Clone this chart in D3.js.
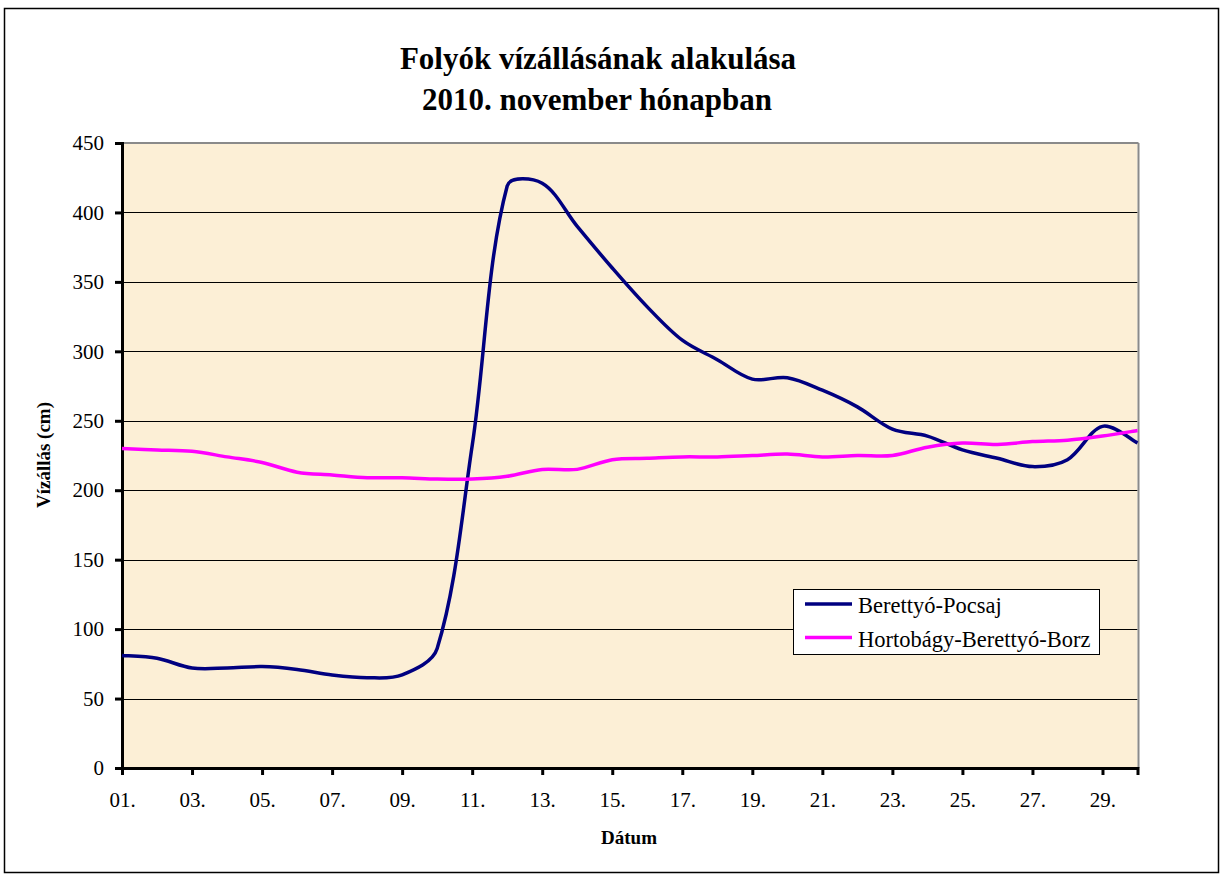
<!DOCTYPE html>
<html><head><meta charset="utf-8">
<script src="https://cdn.jsdelivr.net/npm/d3@7"></script>
<style>body{margin:0;background:#fff;} text{font-family:"Liberation Serif","Times New Roman",serif;}</style>
</head><body>
<svg id="c" width="1224" height="878"></svg>
<script>
const days = d3.range(1, 31);
const dayLabels = ["01.","03.","05.","07.","09.","11.","13.","15.","17.","19.","21.","23.","25.","27.","29."];
const berettyoPocsaj = [81,79,72,72,73,71,67,65,67,86,232,419,421,390,360,332,308,294,280,281,272,260,244,239,229,223,217,222,246,234];
const hortobagyBorz = [230,229,228,224,220,213,211,209,209,208,208,210,215,215,222,223,224,224,225,226,224,225,225,231,234,233,235,236,239,243];
const yTicks = [0,50,100,150,200,250,300,350,400,450];
const seriesNames = ["Berettyó-Pocsaj","Hortobágy-Berettyó-Borz"];
const seriesColors = ["#000080","#FF00FF"];

// Excel-like smoothing curve for d3.line: Bezier control points along (p[i+1]-p[i-1]),
// scaled by the relative lengths of the neighbouring segments.
function curveExcelSmooth(context) {
  let pts = [];
  return {
    areaStart(){}, areaEnd(){},
    lineStart(){ pts = []; },
    point(x, y){ pts.push([+x, +y]); },
    lineEnd(){
      const n = pts.length;
      if (!n) return;
      context.moveTo(pts[0][0], pts[0][1]);
      if (n === 1) return;
      const dist = (a,b)=>Math.hypot(b[0]-a[0], b[1]-a[1]);
      const ctrl = pts.map((p,i)=>{
        const prev = pts[Math.max(0,i-1)], next = pts[Math.min(n-1,i+1)];
        const tx = next[0]-prev[0], ty = next[1]-prev[1];
        const dp = dist(prev,p), dn = dist(p,next), s = dp+dn || 1;
        let fa, fb;
        if (i === 0 || i === n-1) { fa = fb = 1/6; }
        else { fa = dn/s/3; fb = dp/s/3; }
        return {after:[p[0]+tx*fa, p[1]+ty*fa], before:[p[0]-tx*fb, p[1]-ty*fb]};
      });
      for (let i=0;i<n-1;i++){
        const c1 = ctrl[i].after, c2 = ctrl[i+1].before, p = pts[i+1];
        context.bezierCurveTo(c1[0],c1[1],c2[0],c2[1],p[0],p[1]);
      }
    }
  };
}

const svg = d3.select("#c");
const L = 122, R = 1137.5, T = 143, B = 768;
const x = d3.scaleLinear().domain([1, 30]).range([L, R]);
const y = d3.scaleLinear().domain([0, 450]).range([B, T]);

// outer border
svg.append("rect").attr("x",4.5).attr("y",8.5).attr("width",1214).attr("height",864)
  .attr("fill","#fff").attr("stroke","#000").attr("stroke-width",1.5);

// plot background
svg.append("rect").attr("x",L).attr("y",T).attr("width",R-L).attr("height",B-T).attr("fill","#FCEFD6");

// gridlines
svg.append("g").selectAll("line").data(yTicks.filter(v=>v>0 && v<450)).join("line")
  .attr("x1",L).attr("x2",R).attr("y1",d=>Math.round(y(d))+0.5).attr("y2",d=>Math.round(y(d))+0.5)
  .attr("stroke","#000").attr("stroke-width",1);
// top & right border of plot
svg.append("line").attr("x1",L).attr("x2",R+1).attr("y1",T).attr("y2",T).attr("stroke","#8a8a8a").attr("stroke-width",2);
svg.append("line").attr("x1",R+1).attr("x2",R+1).attr("y1",T).attr("y2",B).attr("stroke","#8a8a8a").attr("stroke-width",2);

// axes
const yAxis = d3.axisLeft(y).tickValues(yTicks).tickSize(7).tickPadding(11);
const gy = svg.append("g").attr("transform",`translate(${L},0)`).call(yAxis);
gy.select(".domain").attr("stroke","#000").attr("stroke-width",3);
gy.selectAll(".tick line").attr("stroke","#000").attr("stroke-width",3);
gy.selectAll("text").attr("font-size","21px").attr("fill","#000").attr("font-family","Liberation Serif");

const xAxis = d3.axisBottom(x).tickValues(d3.range(1,31,2)).tickFormat((d,i)=>dayLabels[i]).tickSize(7).tickPadding(17);
const gx = svg.append("g").attr("transform",`translate(0,${B})`).call(xAxis);
gx.select(".domain").attr("stroke","#000").attr("stroke-width",3);
gx.selectAll(".tick line").attr("stroke","#000").attr("stroke-width",3);
gx.selectAll("text").attr("font-size","21px").attr("fill","#000").attr("font-family","Liberation Serif");

// lines
const line = d3.line().x((d,i)=>x(days[i])).y(d=>y(d)).curve(curveExcelSmooth);
[berettyoPocsaj, hortobagyBorz].forEach((s,k)=>{
  svg.append("path").datum(s).attr("d",line).attr("fill","none")
    .attr("stroke",seriesColors[k]).attr("stroke-width",3.5).attr("stroke-linejoin","round");
});

// titles
svg.append("text").attr("x",598).attr("y",69).attr("text-anchor","middle")
  .attr("font-size","31px").attr("font-weight","bold").text("Folyók vízállásának alakulása");
svg.append("text").attr("x",597).attr("y",110).attr("text-anchor","middle")
  .attr("font-size","31px").attr("font-weight","bold").text("2010. november hónapban");
svg.append("text").attr("x",629).attr("y",844).attr("text-anchor","middle")
  .attr("font-size","19px").attr("font-weight","bold").text("Dátum");
svg.append("text").attr("transform","translate(50,455) rotate(-90)").attr("text-anchor","middle")
  .attr("font-size","19px").attr("font-weight","bold").text("Vízállás (cm)");

// legend
const lg = svg.append("g");
lg.append("rect").attr("x",793.5).attr("y",589.5).attr("width",306).attr("height",65)
  .attr("fill","#fff").attr("stroke","#000").attr("stroke-width",1);
seriesNames.forEach((n,k)=>{
  const yy = 604 + k*33.5;
  lg.append("line").attr("x1",805).attr("x2",852).attr("y1",yy).attr("y2",yy)
    .attr("stroke",seriesColors[k]).attr("stroke-width",3.5);
  lg.append("text").attr("x",858).attr("y",yy+9).attr("font-size","22.5px").text(n);
});
</script>
</body></html>
